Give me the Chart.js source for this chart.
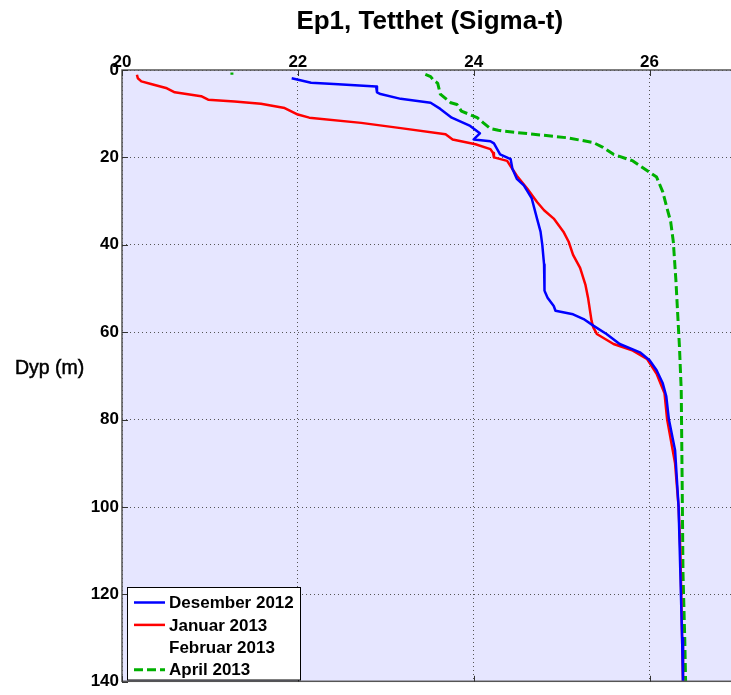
<!DOCTYPE html>
<html>
<head>
<meta charset="utf-8">
<script src="https://cdn.jsdelivr.net/npm/chart.js@4/dist/chart.umd.min.js"></script>
<style>
  html, body { margin: 0; padding: 0; background: #ffffff; overflow: hidden; }
  #wrap { width: 760px; height: 695px; }
</style>
</head>
<body>
<div id="wrap"><canvas id="c" width="760" height="695"></canvas></div>
<script>
// Axis ticks
const xTicks = [20, 22, 24, 26];
const yTicks = [0, 20, 40, 60, 80, 100, 120, 140];

// Desember 2012 profile: depth (m) and density (sigma-t)
const desDepth = [1.9, 2.9, 3.2, 3.8, 5.1, 5.5, 6.6, 7.5, 8.9, 10.9, 12.8, 14.5, 15.9, 16.3, 16.8, 19.3, 20.4, 22.6, 24.9, 26.4, 29.4, 34.0, 37.0, 40.0, 44.5, 49.0, 50.5, 52.1, 54.0, 55.1, 55.9, 57.0, 58.5, 60.4, 62.7, 64.6, 66.4, 68.7, 71.7, 74.7, 80, 87, 100, 115, 130, 140];
const desSigma = [21.93, 22.15, 22.41, 22.89, 22.90, 22.94, 23.17, 23.51, 23.62, 23.75, 23.96, 24.07, 24.00, 24.19, 24.23, 24.30, 24.42, 24.44, 24.49, 24.57, 24.66, 24.72, 24.76, 24.78, 24.80, 24.81, 24.80, 24.84, 24.91, 24.93, 25.13, 25.25, 25.36, 25.51, 25.66, 25.89, 26.00, 26.08, 26.15, 26.19, 26.22, 26.29, 26.33, 26.35, 26.37, 26.38];

// Januar 2013 profile
const janDepth = [1.1, 1.9, 2.6, 3.2, 4.1, 5.1, 6.0, 6.8, 7.2, 7.7, 8.7, 10.2, 10.9, 12.1, 13.3, 14.7, 15.9, 17.0, 18.1, 19.0, 20.0, 20.8, 24.2, 27.2, 30.2, 32.1, 34.0, 37.0, 39.3, 42.3, 45.3, 49.1, 52.1, 57.4, 58.9, 60.4, 62.7, 64.2, 66.1, 69.5, 74.0, 80, 90, 100, 110, 120, 130, 140];
const janSigma = [20.17, 20.18, 20.22, 20.33, 20.50, 20.60, 20.90, 20.98, 21.28, 21.58, 21.85, 22.00, 22.13, 22.72, 23.17, 23.68, 23.76, 24.02, 24.19, 24.22, 24.23, 24.38, 24.49, 24.61, 24.72, 24.80, 24.91, 25.02, 25.08, 25.13, 25.21, 25.27, 25.30, 25.34, 25.36, 25.40, 25.59, 25.81, 25.97, 26.08, 26.17, 26.20, 26.29, 26.33, 26.35, 26.36, 26.37, 26.38];

// Februar 2013 profile (no measurements)
const febDepth = [];
const febSigma = [];

// April 2013 profile (null marks a break in the line)
const aprDepth = [0.6, 1.1, null, 1.0, 1.5, 2.3, 3.0, 5.5, 7.5, 7.9, 9.4, 10.9, 12.1, 13.4, 13.8, 14.0, 14.7, 15.5, 16.6, 17.7, 19.3, 20.8, 23.0, 24.5, 27.9, 31.0, 34.7, 39.3, 48.3, 55.9, 63.4, 73.2, 93, 115, 130, 140];
const aprSigma = [21.25, 21.25, null, 23.45, 23.51, 23.54, 23.59, 23.62, 23.74, 23.81, 23.86, 24.04, 24.11, 24.19, 24.28, 24.34, 24.68, 25.06, 25.36, 25.47, 25.59, 25.81, 25.97, 26.08, 26.15, 26.19, 26.24, 26.27, 26.30, 26.32, 26.34, 26.36, 26.37, 26.38, 26.40, 26.41];

const labels = ['Desember 2012', 'Januar 2013', 'Februar 2013', 'April 2013'];

function toPoints(sig, dep) {
  return sig.map((s, i) => ({ x: s, y: dep[i] }));
}

const FONT = '"Liberation Sans", Arial, Helvetica, sans-serif';

const framePlugin = {
  id: 'frame',
  beforeDraw(chart) {
    const { ctx, chartArea: a } = chart;
    ctx.save();
    ctx.fillStyle = '#ffffff';
    ctx.fillRect(0, 0, chart.width, chart.height);
    ctx.fillStyle = 'rgb(230,230,255)';
    ctx.fillRect(a.left, a.top, a.right - a.left, a.bottom - a.top);
    ctx.restore();
  },
  afterDraw(chart) {
    const { ctx, chartArea: a, scales } = chart;
    ctx.save();
    // solid axes box
    ctx.strokeStyle = '#555555';
    ctx.lineWidth = 1.5;
    ctx.strokeRect(a.left, a.top, a.right - a.left, a.bottom - a.top - 0.5);

    // inward tick marks
    ctx.strokeStyle = '#333333';
    ctx.lineWidth = 1;
    ctx.beginPath();
    xTicks.forEach(v => {
      const px = Math.round(scales.x.getPixelForValue(v)) + 0.5;
      ctx.moveTo(px, a.top); ctx.lineTo(px, a.top + 6);
      ctx.moveTo(px, a.bottom); ctx.lineTo(px, a.bottom - 6);
    });
    yTicks.forEach(v => {
      const py = Math.round(scales.y.getPixelForValue(v)) + 0.5;
      ctx.moveTo(a.left, py); ctx.lineTo(a.left + 6, py);
      ctx.moveTo(a.right, py); ctx.lineTo(a.right - 6, py);
    });
    ctx.stroke();

    // title
    ctx.fillStyle = '#000000';
    ctx.font = 'bold 26px ' + FONT;
    ctx.textAlign = 'center';
    ctx.textBaseline = 'middle';
    ctx.fillText('Ep1, Tetthet (Sigma-t)', (a.left + a.right) / 2, 22);

    // y axis title, horizontal
    ctx.font = '19.5px ' + FONT;
    ctx.textAlign = 'left';
    ctx.strokeStyle = '#000000';
    ctx.lineWidth = 0.5;
    ctx.fillText('Dyp (m)', 15, 369);
    ctx.strokeText('Dyp (m)', 15, 369);

    // legend
    const lx = 127.5, ly = 587.5, lw = 173, lh = 92.5;
    ctx.fillStyle = '#ffffff';
    ctx.fillRect(lx, ly, lw, lh);
    ctx.strokeStyle = '#000000';
    ctx.lineWidth = 1;
    ctx.strokeRect(lx, ly, lw, lh);
    ctx.font = 'bold 17px ' + FONT;
    ctx.textBaseline = 'middle';
    chart.data.datasets.forEach((ds, i) => {
      const cy = 602.5 + i * 22.4;
      ctx.save();
      ctx.strokeStyle = ds.borderColor;
      ctx.lineWidth = ds.borderWidth;
      ctx.setLineDash(ds.borderDash || []);
      ctx.beginPath();
      ctx.moveTo(134, cy);
      ctx.lineTo(165, cy);
      ctx.stroke();
      ctx.restore();
      ctx.fillStyle = '#000000';
      ctx.fillText(ds.label, 169, cy + 1);
    });
    ctx.restore();
  }
};

const gridStyle = {
  color: '#555555',
  lineWidth: 1,
  drawTicks: false
};

new Chart(document.getElementById('c'), {
  type: 'scatter',
  data: {
    datasets: [
      { label: labels[0], data: toPoints(desSigma, desDepth), borderColor: '#0000ff', borderWidth: 2.5 },
      { label: labels[1], data: toPoints(janSigma, janDepth), borderColor: '#ff0000', borderWidth: 2.5 },
      { label: labels[2], data: toPoints(febSigma, febDepth), borderColor: 'rgba(0,0,0,0)', borderWidth: 2.5 },
      { label: labels[3], data: toPoints(aprSigma, aprDepth), borderColor: 'rgb(0,176,0)', borderWidth: 3, borderDash: [9, 4] }
    ].map(ds => Object.assign(ds, {
      showLine: true, pointRadius: 0, pointHoverRadius: 0, fill: false,
      spanGaps: false, tension: 0, borderCapStyle: 'butt', borderJoinStyle: 'round'
    }))
  },
  options: {
    responsive: false,
    animation: false,
    events: [],
    layout: { padding: { left: 0, top: 0, right: 22.5, bottom: 7 } },
    plugins: { legend: { display: false }, tooltip: { enabled: false }, title: { display: false } },
    scales: {
      x: {
        type: 'linear', position: 'top', min: 20, max: 27,
        afterBuildTicks: s => { s.ticks = xTicks.map(v => ({ value: v })); },
        afterFit: s => { s.height = 70; },
        grid: gridStyle,
        border: { display: false, dash: [1, 3] },
        ticks: { color: '#000000', padding: -3, maxRotation: 0, font: { family: FONT, size: 17, weight: 'bold' } }
      },
      y: {
        type: 'linear', position: 'left', reverse: true, min: 0, max: 140,
        afterBuildTicks: s => { s.ticks = yTicks.map(v => ({ value: v })); },
        afterFit: s => { s.width = 122; },
        grid: gridStyle,
        border: { display: false, dash: [1, 3] },
        ticks: { color: '#000000', padding: 3, font: { family: FONT, size: 17, weight: 'bold' } }
      }
    }
  },
  plugins: [framePlugin]
});
</script>
</body>
</html>
